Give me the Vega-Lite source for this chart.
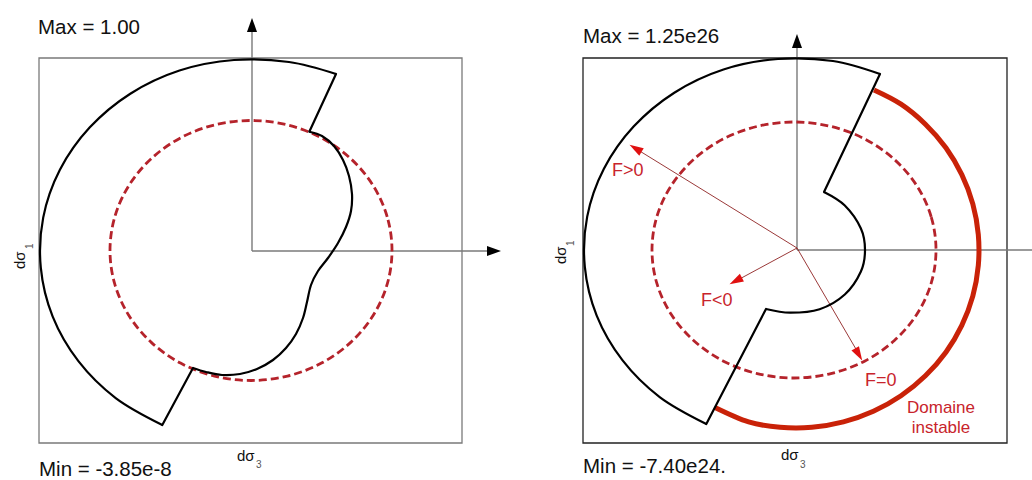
{
  "$schema": "https://vega.github.io/schema/vega-lite/v6.json",
  "width": 1032,
  "height": 480,
  "autosize": "none",
  "padding": 0,
  "background": "white",
  "config": {"view": {"stroke": null}},
  "datasets": {
    "frames": [
      {"p": "L", "x": 39, "y": 58, "x2": 462, "y2": 443},
      {"p": "R", "x": 583, "y": 58, "x2": 1007, "y2": 443}
    ],
    "axes": [
      {"p": "L", "x": 252, "y": 251, "x2": 252, "y2": 30},
      {"p": "B", "x": 252, "y": 251, "x2": 488, "y2": 251},
      {"p": "B", "x": 797, "y": 250, "x2": 797, "y2": 46},
      {"p": "B", "x": 797, "y": 250, "x2": 1032, "y2": 250}
    ],
    "segs": [
      {"x": 336, "y": 74, "x2": 309.3, "y2": 131.7},
      {"x": 162.3, "y": 425, "x2": 193, "y2": 368},
      {"x": 880, "y": 74, "x2": 824, "y2": 192},
      {"x": 706.3, "y": 424, "x2": 766, "y2": 309}
    ],
    "thin": [
      {"x": 797, "y": 248, "x2": 634, "y2": 147.5},
      {"x": 797, "y": 248, "x2": 734, "y2": 282},
      {"x": 797, "y": 248, "x2": 860, "y2": 356}
    ],
    "curves": [
      {"s": "Lo", "i": 0, "x": 336, "y": 74},
      {"s": "Lo", "i": 1, "x": 289, "y": 62},
      {"s": "Lo", "i": 2, "x": 234, "y": 60},
      {"s": "Lo", "i": 3, "x": 179.5, "y": 70.5},
      {"s": "Lo", "i": 4, "x": 130.3, "y": 93.7},
      {"s": "Lo", "i": 5, "x": 89.6, "y": 127.6},
      {"s": "Lo", "i": 6, "x": 59.9, "y": 169.8},
      {"s": "Lo", "i": 7, "x": 43.2, "y": 217.6},
      {"s": "Lo", "i": 8, "x": 40.8, "y": 267.7},
      {"s": "Lo", "i": 9, "x": 52.7, "y": 316.7},
      {"s": "Lo", "i": 10, "x": 78.4, "y": 361.2},
      {"s": "Lo", "i": 11, "x": 115.7, "y": 398.1},
      {"s": "Lo", "i": 12, "x": 162.3, "y": 425},
      {"s": "Li", "i": 0, "x": 309.3, "y": 131.7},
      {"s": "Li", "i": 1, "x": 322, "y": 136},
      {"s": "Li", "i": 2, "x": 334, "y": 146},
      {"s": "Li", "i": 3, "x": 343, "y": 160},
      {"s": "Li", "i": 4, "x": 349, "y": 176},
      {"s": "Li", "i": 5, "x": 352, "y": 194},
      {"s": "Li", "i": 6, "x": 351, "y": 211},
      {"s": "Li", "i": 7, "x": 346, "y": 227},
      {"s": "Li", "i": 8, "x": 338, "y": 243},
      {"s": "Li", "i": 9, "x": 328, "y": 258},
      {"s": "Li", "i": 10, "x": 318, "y": 271},
      {"s": "Li", "i": 11, "x": 311, "y": 285},
      {"s": "Li", "i": 12, "x": 307, "y": 302},
      {"s": "Li", "i": 13, "x": 303, "y": 318},
      {"s": "Li", "i": 14, "x": 296, "y": 334},
      {"s": "Li", "i": 15, "x": 286, "y": 348},
      {"s": "Li", "i": 16, "x": 273, "y": 360},
      {"s": "Li", "i": 17, "x": 257, "y": 369},
      {"s": "Li", "i": 18, "x": 240, "y": 374},
      {"s": "Li", "i": 19, "x": 222, "y": 375},
      {"s": "Li", "i": 20, "x": 206, "y": 372},
      {"s": "Li", "i": 21, "x": 193, "y": 368},
      {"s": "Ro", "i": 0, "x": 880, "y": 74},
      {"s": "Ro", "i": 1, "x": 833, "y": 61},
      {"s": "Ro", "i": 2, "x": 778, "y": 59},
      {"s": "Ro", "i": 3, "x": 723.5, "y": 69.5},
      {"s": "Ro", "i": 4, "x": 674.3, "y": 92.7},
      {"s": "Ro", "i": 5, "x": 633.6, "y": 126.6},
      {"s": "Ro", "i": 6, "x": 603.9, "y": 168.8},
      {"s": "Ro", "i": 7, "x": 587.2, "y": 216.6},
      {"s": "Ro", "i": 8, "x": 584.8, "y": 266.7},
      {"s": "Ro", "i": 9, "x": 596.7, "y": 315.7},
      {"s": "Ro", "i": 10, "x": 622.4, "y": 360.2},
      {"s": "Ro", "i": 11, "x": 659.7, "y": 397.1},
      {"s": "Ro", "i": 12, "x": 706.3, "y": 424},
      {"s": "Ri", "i": 0, "x": 824, "y": 192},
      {"s": "Ri", "i": 1, "x": 844.8, "y": 205.5},
      {"s": "Ri", "i": 2, "x": 860.9, "y": 228.5},
      {"s": "Ri", "i": 3, "x": 865, "y": 250},
      {"s": "Ri", "i": 4, "x": 860.9, "y": 271.5},
      {"s": "Ri", "i": 5, "x": 844.8, "y": 294.5},
      {"s": "Ri", "i": 6, "x": 819.6, "y": 309.2},
      {"s": "Ri", "i": 7, "x": 790, "y": 312.7},
      {"s": "Ri", "i": 8, "x": 766, "y": 309}
    ],
    "dashed": [
      {"s": "L", "i": 0, "x": 392, "y": 250.5},
      {"s": "L", "i": 1, "x": 387.2, "y": 216.8},
      {"s": "L", "i": 2, "x": 373.1, "y": 185.5},
      {"s": "L", "i": 3, "x": 350.7, "y": 158.6},
      {"s": "L", "i": 4, "x": 321.5, "y": 137.9},
      {"s": "L", "i": 5, "x": 287.5, "y": 124.9},
      {"s": "L", "i": 6, "x": 251, "y": 120.5},
      {"s": "L", "i": 7, "x": 214.5, "y": 124.9},
      {"s": "L", "i": 8, "x": 180.5, "y": 137.9},
      {"s": "L", "i": 9, "x": 151.3, "y": 158.6},
      {"s": "L", "i": 10, "x": 128.9, "y": 185.5},
      {"s": "L", "i": 11, "x": 114.8, "y": 216.8},
      {"s": "L", "i": 12, "x": 110, "y": 250.5},
      {"s": "L", "i": 13, "x": 114.8, "y": 284.2},
      {"s": "L", "i": 14, "x": 128.9, "y": 315.5},
      {"s": "L", "i": 15, "x": 151.3, "y": 342.4},
      {"s": "L", "i": 16, "x": 180.5, "y": 363.1},
      {"s": "L", "i": 17, "x": 214.5, "y": 376.1},
      {"s": "L", "i": 18, "x": 251, "y": 380.5},
      {"s": "L", "i": 19, "x": 287.5, "y": 376.1},
      {"s": "L", "i": 20, "x": 321.5, "y": 363.1},
      {"s": "L", "i": 21, "x": 350.7, "y": 342.4},
      {"s": "L", "i": 22, "x": 373.1, "y": 315.5},
      {"s": "L", "i": 23, "x": 387.2, "y": 284.2},
      {"s": "R", "i": 0, "x": 936, "y": 250},
      {"s": "R", "i": 1, "x": 931.2, "y": 216.8},
      {"s": "R", "i": 2, "x": 917, "y": 186},
      {"s": "R", "i": 3, "x": 894.4, "y": 159.5},
      {"s": "R", "i": 4, "x": 865, "y": 139.1},
      {"s": "R", "i": 5, "x": 830.8, "y": 126.4},
      {"s": "R", "i": 6, "x": 794, "y": 122},
      {"s": "R", "i": 7, "x": 757.2, "y": 126.4},
      {"s": "R", "i": 8, "x": 723, "y": 139.1},
      {"s": "R", "i": 9, "x": 693.6, "y": 159.5},
      {"s": "R", "i": 10, "x": 671, "y": 186},
      {"s": "R", "i": 11, "x": 656.8, "y": 216.8},
      {"s": "R", "i": 12, "x": 652, "y": 250},
      {"s": "R", "i": 13, "x": 656.8, "y": 283.2},
      {"s": "R", "i": 14, "x": 671, "y": 314},
      {"s": "R", "i": 15, "x": 693.6, "y": 340.5},
      {"s": "R", "i": 16, "x": 723, "y": 360.9},
      {"s": "R", "i": 17, "x": 757.2, "y": 373.6},
      {"s": "R", "i": 18, "x": 794, "y": 378},
      {"s": "R", "i": 19, "x": 830.8, "y": 373.6},
      {"s": "R", "i": 20, "x": 865, "y": 360.9},
      {"s": "R", "i": 21, "x": 894.4, "y": 340.5},
      {"s": "R", "i": 22, "x": 917, "y": 314},
      {"s": "R", "i": 23, "x": 931.2, "y": 283.2}
    ],
    "unstable": [
      {"i": 0, "x": 874, "y": 90},
      {"i": 1, "x": 901, "y": 104.2},
      {"i": 2, "x": 925.4, "y": 124.2},
      {"i": 3, "x": 945.9, "y": 147.8},
      {"i": 4, "x": 961.8, "y": 174.7},
      {"i": 5, "x": 972.8, "y": 203.9},
      {"i": 6, "x": 978.3, "y": 234.5},
      {"i": 7, "x": 978.3, "y": 265.5},
      {"i": 8, "x": 972.8, "y": 296.1},
      {"i": 9, "x": 961.8, "y": 325.3},
      {"i": 10, "x": 945.9, "y": 352.2},
      {"i": 11, "x": 925.4, "y": 375.8},
      {"i": 12, "x": 901, "y": 395.8},
      {"i": 13, "x": 873.4, "y": 411.3},
      {"i": 14, "x": 843.4, "y": 421.9},
      {"i": 15, "x": 811.9, "y": 427.3},
      {"i": 16, "x": 780.1, "y": 427.3},
      {"i": 17, "x": 748.6, "y": 421.9},
      {"i": 18, "x": 715, "y": 407.5}
    ],
    "blackheads": [
      {"x": 252, "y": 25, "a": 0},
      {"x": 494, "y": 251, "a": 90},
      {"x": 797, "y": 41, "a": 0}
    ],
    "redheads": [
      {"x": 635.5, "y": 148.4, "a": 301},
      {"x": 735.7, "y": 280.9, "a": 242},
      {"x": 858.7, "y": 354.4, "a": 150}
    ],
    "bigtext": [
      {"t": "Max = 1.00", "x": 38, "y": 34},
      {"t": "Max = 1.25e26", "x": 583, "y": 43},
      {"t": "Min = -3.85e-8", "x": 39, "y": 476},
      {"t": "Min = -7.40e24.", "x": 583, "y": 473}
    ],
    "axlab": [
      {"t": "dσ", "x": 237, "y": 461},
      {"t": "dσ", "x": 781, "y": 460}
    ],
    "axsub": [
      {"t": "3", "x": 256, "y": 468},
      {"t": "3", "x": 800, "y": 468}
    ],
    "vlab": [
      {"t": "dσ", "x": 25, "y": 269},
      {"t": "dσ", "x": 566, "y": 264}
    ],
    "vsub": [
      {"t": "1", "x": 32.5, "y": 249},
      {"t": "1", "x": 574, "y": 246}
    ],
    "redtext": [
      {"t": "F>0", "x": 612, "y": 176},
      {"t": "F<0", "x": 701, "y": 306},
      {"t": "F=0", "x": 865, "y": 386}
    ],
    "domaine": [
      {"t": "Domaine", "x": 941, "y": 413},
      {"t": "instable", "x": 941, "y": 433}
    ]
  },
  "encoding": {
    "x": {"field": "x", "type": "quantitative", "scale": {"domain": [0, 1032], "nice": false, "zero": false}, "axis": null},
    "y": {"field": "y", "type": "quantitative", "scale": {"domain": [0, 480], "nice": false, "zero": false, "reverse": true}, "axis": null}
  },
  "layer": [
    {
      "data": {"name": "frames"},
      "mark": {"type": "rect", "filled": false, "strokeWidth": 1.3},
      "encoding": {
        "x2": {"field": "x2"},
        "y2": {"field": "y2"},
        "stroke": {"field": "p", "type": "nominal", "scale": {"domain": ["L", "R"], "range": ["#7a7a7a", "#222222"]}, "legend": null}
      }
    },
    {
      "data": {"name": "axes"},
      "mark": {"type": "rule", "strokeWidth": 1.4},
      "encoding": {
        "x2": {"field": "x2"},
        "y2": {"field": "y2"},
        "stroke": {"field": "p", "type": "nominal", "scale": {"domain": ["L", "B"], "range": ["#666666", "#000000"]}, "legend": null}
      }
    },
    {
      "data": {"name": "dashed"},
      "mark": {"type": "line", "interpolate": "cardinal-closed", "stroke": "#b5232b", "strokeWidth": 2.8, "strokeDash": [8, 4]},
      "encoding": {
        "order": {"field": "i", "type": "quantitative"},
        "detail": {"field": "s", "type": "nominal"}
      }
    },
    {
      "data": {"name": "unstable"},
      "mark": {"type": "line", "interpolate": "cardinal", "stroke": "#c92208", "strokeWidth": 5, "strokeCap": "butt"},
      "encoding": {
        "order": {"field": "i", "type": "quantitative"}
      }
    },
    {
      "data": {"name": "thin"},
      "mark": {"type": "rule", "stroke": "#8e2222", "strokeWidth": 0.9},
      "encoding": {
        "x2": {"field": "x2"},
        "y2": {"field": "y2"}
      }
    },
    {
      "data": {"name": "curves"},
      "mark": {"type": "line", "interpolate": "cardinal", "stroke": "#000000", "strokeWidth": 2.2, "strokeJoin": "round"},
      "encoding": {
        "order": {"field": "i", "type": "quantitative"},
        "detail": {"field": "s", "type": "nominal"}
      }
    },
    {
      "data": {"name": "segs"},
      "mark": {"type": "rule", "stroke": "#000000", "strokeWidth": 2.2, "strokeCap": "round"},
      "encoding": {
        "x2": {"field": "x2"},
        "y2": {"field": "y2"}
      }
    },
    {
      "data": {"name": "blackheads"},
      "mark": {"type": "point", "filled": true, "shape": "M0,-1L0.72,1L-0.72,1Z", "size": 196, "color": "#000000", "opacity": 1},
      "encoding": {
        "angle": {"field": "a", "type": "quantitative", "scale": null}
      }
    },
    {
      "data": {"name": "redheads"},
      "mark": {"type": "point", "filled": true, "shape": "M0,-1L0.62,1L-0.62,1Z", "size": 196, "color": "#e01010", "opacity": 1},
      "encoding": {
        "angle": {"field": "a", "type": "quantitative", "scale": null}
      }
    },
    {
      "data": {"name": "bigtext"},
      "mark": {"type": "text", "align": "left", "baseline": "alphabetic", "font": "Liberation Sans", "fontSize": 20.5, "color": "#111111"},
      "encoding": {"text": {"field": "t"}}
    },
    {
      "data": {"name": "axlab"},
      "mark": {"type": "text", "align": "left", "baseline": "alphabetic", "font": "Liberation Sans", "fontSize": 15, "color": "#111111"},
      "encoding": {"text": {"field": "t"}}
    },
    {
      "data": {"name": "axsub"},
      "mark": {"type": "text", "align": "left", "baseline": "alphabetic", "font": "Liberation Sans", "fontSize": 10, "color": "#555555"},
      "encoding": {"text": {"field": "t"}}
    },
    {
      "data": {"name": "vlab"},
      "mark": {"type": "text", "align": "left", "baseline": "alphabetic", "angle": 270, "font": "Liberation Sans", "fontSize": 15, "color": "#111111"},
      "encoding": {"text": {"field": "t"}}
    },
    {
      "data": {"name": "vsub"},
      "mark": {"type": "text", "align": "left", "baseline": "alphabetic", "angle": 270, "font": "Liberation Sans", "fontSize": 10, "color": "#555555"},
      "encoding": {"text": {"field": "t"}}
    },
    {
      "data": {"name": "redtext"},
      "mark": {"type": "text", "align": "left", "baseline": "alphabetic", "font": "Liberation Sans", "fontSize": 18, "color": "#c8242c"},
      "encoding": {"text": {"field": "t"}}
    },
    {
      "data": {"name": "domaine"},
      "mark": {"type": "text", "align": "center", "baseline": "alphabetic", "font": "Liberation Sans", "fontSize": 17, "color": "#c8242c"},
      "encoding": {"text": {"field": "t"}}
    }
  ]
}
